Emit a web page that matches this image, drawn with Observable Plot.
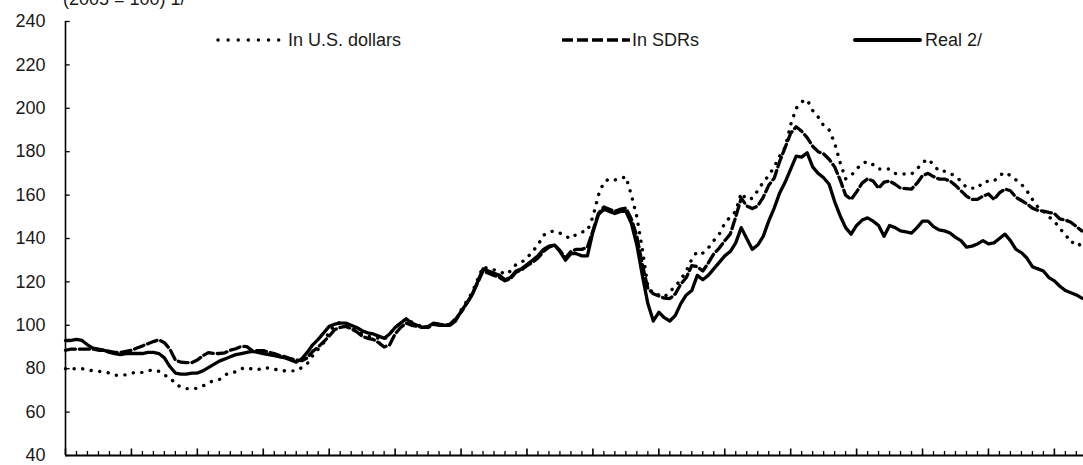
<!DOCTYPE html>
<html>
<head>
<meta charset="utf-8">
<script src="https://cdn.jsdelivr.net/npm/d3@7"></script>
<script src="https://cdn.jsdelivr.net/npm/@observablehq/plot@0.6"></script>
<style>
  html, body { margin: 0; padding: 0; background: #fff; }
  #wrap { position: relative; width: 1083px; height: 465px; overflow: hidden; font-family: "Liberation Sans", Arial, sans-serif; color: #1a1a1a; }
  #chart { position: absolute; left: 0; top: 0; }
  .txt { position: absolute; font-size: 18px; line-height: 18px; white-space: nowrap; }
  .sample { position: absolute; }
</style>
</head>
<body>
<div id="wrap">
  <div id="chart"></div>
  <div class="txt" style="left:63px; top:-10px;">(2005 = 100) 1/</div>
  <svg class="sample" style="left:210px; top:34px;" width="80" height="12">
    <line x1="8" y1="6" x2="70" y2="6" stroke="#000" stroke-width="3.4" stroke-linecap="round" stroke-dasharray="0.1 10"/>
  </svg>
  <div class="txt" id="lg1" style="left:288px; top:31px;"></div>
  <svg class="sample" style="left:560px; top:34px;" width="72" height="12">
    <line x1="2" y1="6" x2="70" y2="6" stroke="#000" stroke-width="3.6" stroke-dasharray="11 4"/>
  </svg>
  <div class="txt" id="lg2" style="left:632px; top:31px;"></div>
  <svg class="sample" style="left:853px; top:34px;" width="70" height="12">
    <line x1="2" y1="6" x2="67" y2="6" stroke="#000" stroke-width="4" stroke-linecap="round"/>
  </svg>
  <div class="txt" id="lg3" style="left:925px; top:31px;"></div>
</div>
<script>
// Monthly index values, January 2000 onward (2005 = 100)
const startYear = 2000;
const seriesNames = ["In U.S. dollars", "In SDRs", "Real 2/"];
const yTicks = [40, 60, 80, 100, 120, 140, 160, 180, 200, 220, 240];

const usd = [
  80, 80, 80, 80, 79.5, 79, 78.8, 78.5, 78, 77, 77, 77.2,
  78, 78.3, 78.3, 79, 79.5, 78.8, 77, 76, 73, 71.5, 70.8, 70.8,
  71, 72, 73.5, 74.5, 75, 77, 78.3, 78.5, 80, 80.5, 79.8, 79.5,
  80.5, 80.3, 79.8, 79.2, 79, 79, 79, 80.5, 82.3, 86, 89, 92,
  97, 100, 101.5, 101, 99.5, 98, 96, 95, 94.5, 94, 93.5, 96,
  99, 101, 103, 101.5, 100.5, 99, 99, 100.5, 100, 100, 100, 102.5,
  107, 111, 115, 121, 127, 126, 125.5, 125, 123.5, 125, 128, 129,
  131, 134, 137, 141.5, 143, 143.5, 142.5, 141, 140, 142, 143, 143.5,
  150, 160, 166, 167.5, 167, 167.5, 168.5, 160, 150, 135, 118, 114.5,
  114, 113, 115.5, 118, 121, 125, 130.5, 134, 133.3, 135.6, 139, 142,
  147, 150, 152.5, 161, 158, 158.5, 162, 166, 169, 173, 178, 182,
  192.5, 200, 203, 204, 199, 196, 192, 190, 184, 175, 167.5, 169,
  172, 174.5, 175.5, 174, 172, 172, 172, 170, 169.7, 169.7, 169.7, 172,
  175, 176.6, 174, 171, 171, 170, 168.7, 166.4, 163.5, 163.2, 163.2, 166,
  166.4, 166.4, 169, 170.5, 169, 167, 165, 162, 158, 154.5, 152.6, 150,
  148, 144.5, 142, 138, 138.7, 136
];

const sdr = [
  88.5, 89, 89, 89, 89, 89, 88.5, 88.5, 88, 87.5, 87.5, 88,
  88.5, 89.5, 90.5, 91.5, 92.5, 93.3, 92, 89, 84, 83, 82.8, 82.8,
  84, 86, 87.4, 87, 87, 87.3, 88.5, 89.2, 90.3, 90.2, 88.3, 88.3,
  88.3, 87.5, 87, 86, 85.5, 84.6, 84, 83.7, 85, 88, 90, 92.5,
  95, 98, 99, 99.5, 98.5, 97, 95, 94, 93.5, 92, 90, 91,
  96, 99, 101, 100, 99.5, 99, 99, 100.5, 100, 100, 100.5, 103,
  106, 110, 114, 119.5, 125, 124, 123, 122, 120.5, 121.5, 124.5, 125.5,
  127.5, 129, 131, 134, 136, 137, 134.5, 131, 134, 135, 135, 136,
  143.5, 151.5, 154.5, 153.5, 152.5, 153.5, 154, 149, 141, 128, 117, 114.5,
  113.5, 112.5, 112.3, 114.5, 119, 122, 127.5, 127, 125, 128.7, 132.9, 135.6,
  139, 142, 150, 158.6, 155, 153.8, 155, 159, 164.5, 167.8, 175.5, 182,
  188.5, 191.5, 189.4, 186.5, 182.5, 180, 179, 176.5, 173, 167, 160, 158,
  161.5, 165.5, 167.5, 166.5, 163.2, 166, 166.5, 165, 163.2, 163, 162.8, 165.5,
  169, 170, 168.5, 167.4, 167.4, 166.5, 164.5, 162, 159.5, 158, 158, 159.5,
  160.5, 158, 161, 162.8, 162, 159, 157.5, 156, 154, 153, 152.6, 152,
  151.5, 149, 148.5, 147.5, 145.5, 143.5
];

const real = [
  93, 93, 93.5, 93, 91, 89.5, 89, 88.5, 87.5, 87, 86.5, 87,
  87, 87, 87, 87.5, 87.5, 87, 85, 81, 78, 77.5, 77.5, 78,
  78, 79, 80.5, 82, 83.5, 84.5, 85.5, 86.5, 87, 87.5, 88, 87.5,
  87, 86.5, 86, 85.5, 85, 84, 83, 84.5, 87.5, 91, 93.5, 96.5,
  99.5, 100.5, 101, 101, 100, 99, 97.5, 96.5, 96, 95, 94, 96,
  99, 101, 103, 101, 100, 99, 99.5, 101, 100.5, 100, 100, 102,
  106.5, 110, 114, 120, 126, 125, 124, 123, 121, 122, 125, 126,
  128, 130, 132, 135, 136.5, 137, 134, 130, 133, 133, 132, 132,
  143, 151, 153.5, 152.5, 151.5, 152.5, 152.5, 147, 137, 123, 110, 102,
  106, 103.5, 102, 104.5, 110, 114, 116, 123, 121, 123, 126, 129,
  132, 134, 138, 145, 140, 135, 137, 141, 148, 154, 161, 166,
  172, 178, 177.5, 179.5, 173, 170, 168, 165, 157, 150.5, 145, 142,
  146, 148.5, 149.5, 148, 146, 141, 146, 145, 143.5, 143, 142.5, 145,
  148, 148, 145.5, 144, 143.5, 142.5, 140.5, 139, 136, 136.5, 137.5, 139,
  137.5, 138, 140, 142, 139, 135, 133.5, 131, 127, 126, 125, 122,
  120.5, 118, 116, 115, 114, 112.5
];

const toRows = arr => arr.map((v, i) => ({m: i, v}));
const nMonths = real.length;
const minorTicks = d3.range(0, nMonths, 2).filter(m => m % 12 !== 0);
const majorTicks = d3.range(0, nMonths, 12);

document.getElementById("lg1").textContent = seriesNames[0];
document.getElementById("lg2").textContent = seriesNames[1];
document.getElementById("lg3").textContent = seriesNames[2];

const yPx = 434 / 200; // px per index unit, used for small inward tick lengths
const chart = Plot.plot({
  width: 1083,
  height: 465,
  marginTop: 21,
  marginBottom: 10,
  marginLeft: 65,
  marginRight: 0,
  style: {fontFamily: "'Liberation Sans', Arial, sans-serif", fontSize: "18px", color: "#1a1a1a", background: "white", overflow: "visible"},
  x: {domain: [0, 185.3], axis: null},
  y: {domain: [40, 240], axis: null},
  marks: [
    Plot.axisY(yTicks, {tickSize: 0, tickPadding: 20, label: null, fontSize: 18, fill: "#1a1a1a"}),
    Plot.ruleY(yTicks, {y: d => d, x1: 0, x2: 0.85, stroke: "#000", strokeWidth: 1.3}),
    Plot.ruleX(minorTicks, {x: d => d, y1: 40, y2: 40 + 4 / yPx, stroke: "#000", strokeWidth: 1.3}),
    Plot.ruleX(majorTicks, {x: d => d, y1: 40, y2: 40 + 6.5 / yPx, stroke: "#000", strokeWidth: 1.6}),
    Plot.ruleX([0], {y1: 40, y2: 240, stroke: "#000", strokeWidth: 1.6}),
    Plot.ruleY([40], {stroke: "#000", strokeWidth: 1.8}),
    Plot.line(toRows(usd), {x: "m", y: "v", stroke: "#000", strokeWidth: 3.4, strokeLinecap: "round", strokeLinejoin: "round", strokeDasharray: "0.1 8.5"}),
    Plot.line(toRows(sdr), {x: "m", y: "v", stroke: "#000", strokeWidth: 3.3, strokeLinejoin: "round", strokeDasharray: "10 4"}),
    Plot.line(toRows(real), {x: "m", y: "v", stroke: "#000", strokeWidth: 3.3, strokeLinejoin: "round"})
  ]
});
document.getElementById("chart").appendChild(chart);
</script>
</body>
</html>
